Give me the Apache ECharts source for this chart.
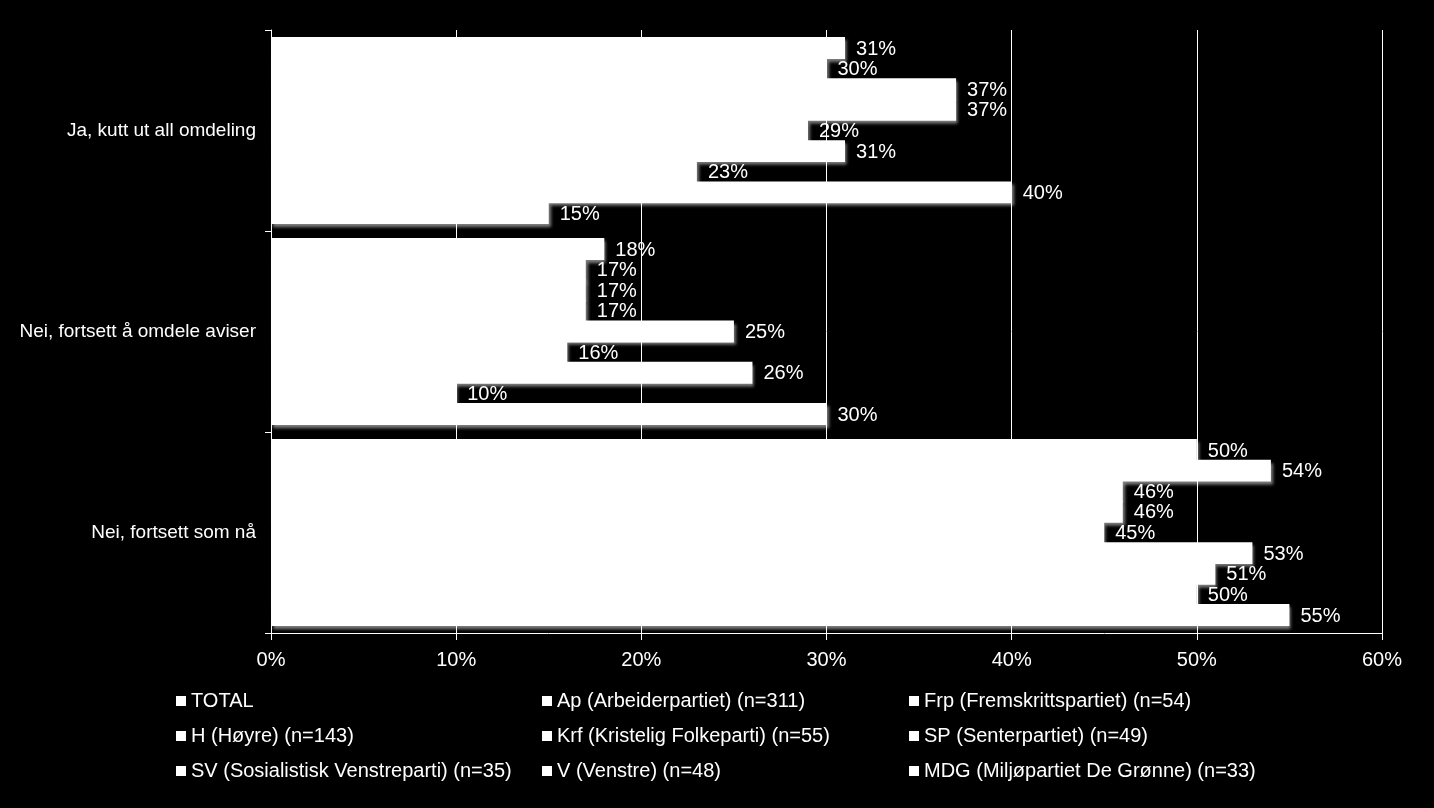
<!DOCTYPE html>
<html>
<head>
<meta charset="utf-8">
<style>
  html, body { margin: 0; padding: 0; background: #000; }
  #chart { width: 1434px; height: 808px; }
</style>
<script src="https://cdn.jsdelivr.net/npm/echarts@6/dist/echarts.min.js"></script>
</head>
<body>
<div id="chart"></div>
<script>
const categories = ['Ja, kutt ut all omdeling', 'Nei, fortsett å omdele aviser', 'Nei, fortsett som nå'];
const seriesNames = [
  'TOTAL',
  'Ap (Arbeiderpartiet) (n=311)',
  'Frp (Fremskrittspartiet) (n=54)',
  'H (Høyre) (n=143)',
  'Krf (Kristelig Folkeparti) (n=55)',
  'SP (Senterpartiet) (n=49)',
  'SV (Sosialistisk Venstreparti) (n=35)',
  'V (Venstre) (n=48)',
  'MDG (Miljøpartiet De Grønne) (n=33)'
];
const totalValues = [31, 18, 50];
const apValues    = [30, 17, 54];
const frpValues   = [37, 17, 46];
const hValues     = [37, 17, 46];
const krfValues   = [29, 25, 45];
const spValues    = [31, 16, 53];
const svValues    = [23, 26, 51];
const vValues     = [40, 10, 50];
const mdgValues   = [15, 30, 55];
const xTicks = [0, 10, 20, 30, 40, 50, 60];

const seriesValues = [totalValues, apValues, frpValues, hValues, krfValues, spValues, svValues, vValues, mdgValues];

const FONT = '"Liberation Sans", Arial, sans-serif';

const series = seriesNames.map((name, i) => ({
  name: name,
  type: 'bar',
  data: seriesValues[i],
  barGap: '-6%',
  barCategoryGap: '7%',
  itemStyle: {
    color: '#ffffff',
    borderWidth: 0,
    shadowColor: 'rgba(255,255,255,0.5)',
    shadowBlur: 3,
    shadowOffsetX: 2,
    shadowOffsetY: 3
  },
  label: {
    show: true,
    position: 'right',
    distance: 11,
    offset: [0, 1],
    color: '#ffffff',
    fontSize: 20,
    fontFamily: FONT,
    formatter: '{c}%'
  },
  emphasis: { disabled: true }
}));

const legendCommon = {
  orient: 'vertical',
  top: 686,
  itemWidth: 10,
  itemHeight: 10,
  itemGap: 15,
  icon: 'rect',
  selectedMode: false,
  itemStyle: { color: '#ffffff', borderWidth: 0, shadowBlur: 0, shadowOffsetX: 0, shadowOffsetY: 0 },
  textStyle: { color: '#ffffff', fontSize: 20, fontFamily: FONT, lineHeight: 20 }
};

const chart = echarts.init(document.getElementById('chart'), null, { renderer: 'canvas' });
chart.setOption({
  backgroundColor: '#000000',
  animation: false,
  grid: { left: 271, right: 52, top: 30, bottom: 175, containLabel: false },
  xAxis: {
    type: 'value',
    min: xTicks[0],
    max: xTicks[xTicks.length - 1],
    interval: 10,
    axisLine: { show: true, lineStyle: { color: '#ffffff', width: 1 } },
    axisTick: { show: true, length: 7, lineStyle: { color: '#ffffff' } },
    axisLabel: { color: '#ffffff', fontSize: 20, fontFamily: FONT, margin: 17, formatter: '{value}%' },
    splitLine: { show: true, lineStyle: { color: '#ffffff', width: 1 } }
  },
  yAxis: {
    type: 'category',
    data: categories,
    inverse: true,
    axisLine: { show: true, lineStyle: { color: '#ffffff', width: 1 } },
    axisTick: { show: true, length: 6, alignWithLabel: false, lineStyle: { color: '#ffffff' } },
    axisLabel: { color: '#ffffff', fontSize: 19, fontFamily: FONT, margin: 15 },
    splitLine: { show: false }
  },
  legend: [
    Object.assign({}, legendCommon, { left: 171, data: [seriesNames[0], seriesNames[3], seriesNames[6]] }),
    Object.assign({}, legendCommon, { left: 537, data: [seriesNames[1], seriesNames[4], seriesNames[7]] }),
    Object.assign({}, legendCommon, { left: 904, data: [seriesNames[2], seriesNames[5], seriesNames[8]] })
  ],
  series: series
});
</script>
</body>
</html>
